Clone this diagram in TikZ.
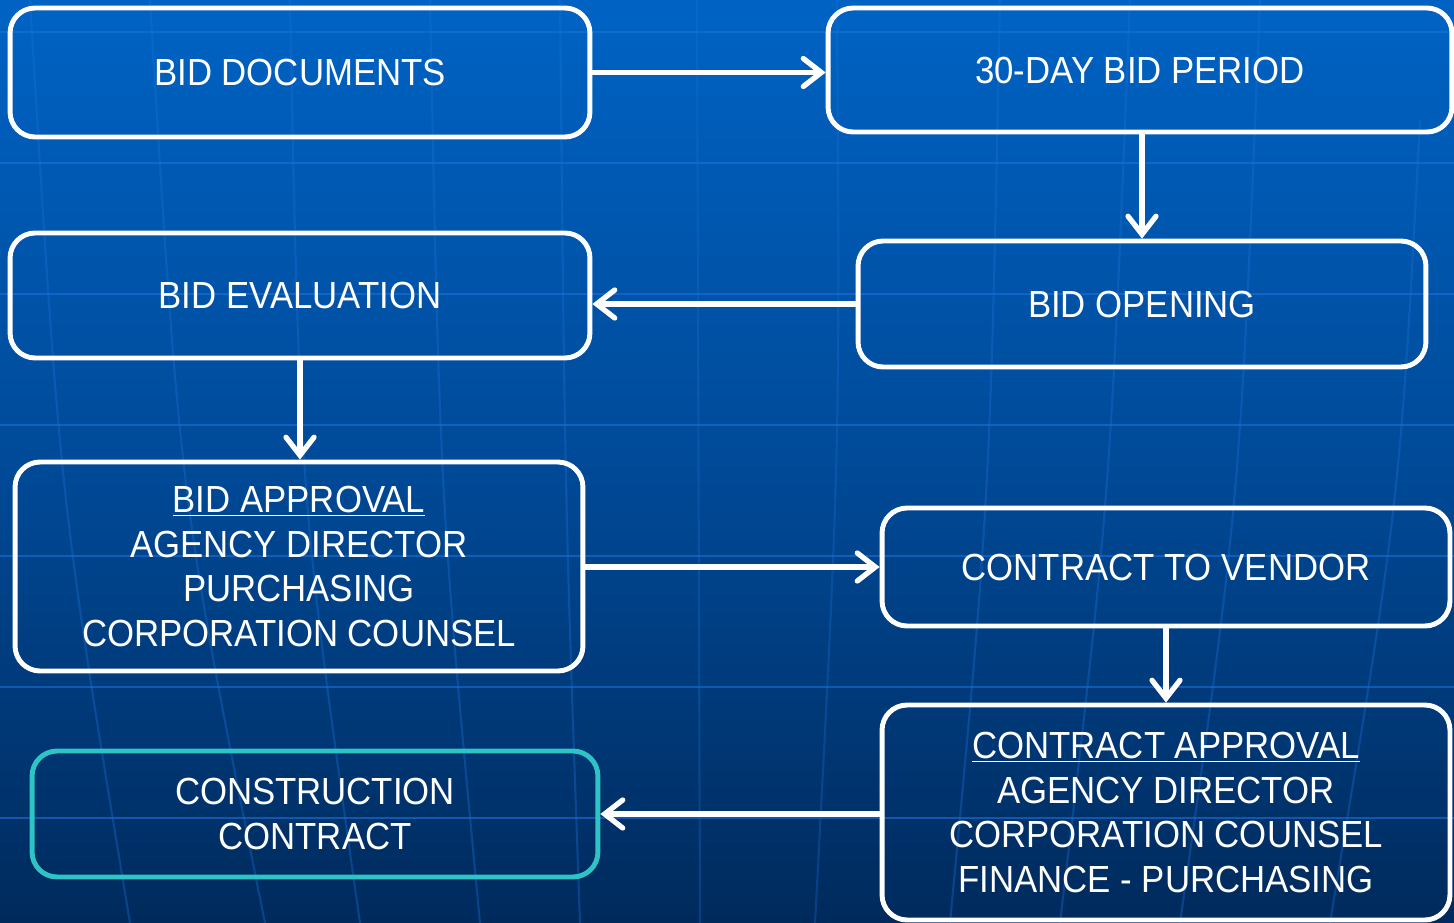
\documentclass[tikz,border=0pt]{standalone}
\usepackage{fontspec}
\setmainfont[FakeStretch=0.92]{Liberation Sans}
\usetikzlibrary{arrows.meta}
\definecolor{bgtop}{HTML}{0063C4}
\definecolor{bgmid}{HTML}{004A98}
\definecolor{bgbot}{HTML}{002A5C}
\definecolor{gridblue}{HTML}{1A72DA}
\definecolor{teal}{HTML}{2EC4C6}
\tikzset{
  stepbox/.style={draw=white, line width=2.8pt, rounded corners=0.5cm,
    text=white, align=center, font=\fontsize{21.5}{25.4}\selectfont,
    inner sep=0pt},
  flow/.style={draw=white, line width=3pt,
    -{Straight Barb[length=0.36cm,width=0.56cm,line cap=round]}},
  globe/.style={gridblue, line width=1.2pt, opacity=0.6}
}
\begin{document}
\begin{tikzpicture}[x=0.02cm, y=-0.02cm]
    \useasboundingbox (0,0) rectangle (1454,923);
    \fill[top color=bgtop, bottom color=bgbot, middle color=bgmid]
      (0,0) rectangle (1454,923);
    % globe lines in the background
    \foreach \gy in {32,163,294,425,556,687,818}
      \draw[globe] (0,\gy) -- (1454,\gy);
    \draw[globe, opacity=0.3] (697,0) -- (700,923);
    \draw[globe, opacity=0.3] (837,0) .. controls (840,450) .. (815,923);
    \draw[globe, opacity=0.35] (30,0) .. controls (60,500) .. (130,923);
    \draw[globe, opacity=0.35] (150,0) .. controls (180,500) .. (265,923);
    \draw[globe, opacity=0.35] (290,0) .. controls (300,500) .. (360,923);
    \draw[globe, opacity=0.35] (430,0) .. controls (440,500) .. (480,923);
    \draw[globe, opacity=0.35] (560,0) .. controls (565,500) .. (580,923);
    \draw[globe, opacity=0.35] (1000,0) .. controls (990,500) .. (950,923);
    \draw[globe, opacity=0.35] (1130,0) .. controls (1110,500) .. (1060,923);
    \draw[globe, opacity=0.35] (1260,0) .. controls (1240,500) .. (1180,923);
    \draw[globe, opacity=0.35] (1420,120) .. controls (1400,500) .. (1330,923);

    \node[stepbox, minimum width=11.6cm, minimum height=2.58cm]
      (docs) at (300,72.5) {BID DOCUMENTS};
    \node[stepbox, minimum width=12.48cm, minimum height=2.48cm]
      (period) at (1140,70) {30-DAY BID PERIOD};

    \node[stepbox, minimum width=11.6cm, minimum height=2.5cm]
      (eval) at (300,295.5) {BID EVALUATION};
    \node[stepbox, minimum width=11.36cm, minimum height=2.52cm]
      (opening) at (1142,304) {BID OPENING};

    \node[stepbox, minimum width=11.36cm, minimum height=4.18cm]
      (bidappr) at (299,566.5) {\underline{BID APPROVAL}\\AGENCY DIRECTOR\\PURCHASING\\CORPORATION COUNSEL};
    \node[stepbox, minimum width=11.36cm, minimum height=2.36cm]
      (vendor) at (1166,567) {CONTRACT TO VENDOR};

    \node[stepbox, draw=teal, minimum width=11.32cm, minimum height=2.52cm]
      (constr) at (315,814) {CONSTRUCTION\\CONTRACT};
    \node[stepbox, minimum width=11.36cm, minimum height=4.3cm]
      (contrappr) at (1166,812.5) {\underline{CONTRACT APPROVAL}\\AGENCY DIRECTOR\\CORPORATION COUNSEL\\FINANCE - PURCHASING};

    \draw[flow] (docs.east) -- (docs.east -| period.west);
    \draw[flow] (period.south -| opening.north) -- (opening.north);
    \draw[flow] (opening.west) -- (opening.west -| eval.east);
    \draw[flow] (eval.south) -- (eval.south |- bidappr.north);
    \draw[flow] (bidappr.east |- vendor.west) -- (vendor.west);
    \draw[flow] (vendor.south) -- (contrappr.north);
    \draw[flow] (contrappr.west |- constr.east) -- (constr.east);
\end{tikzpicture}
\end{document}
